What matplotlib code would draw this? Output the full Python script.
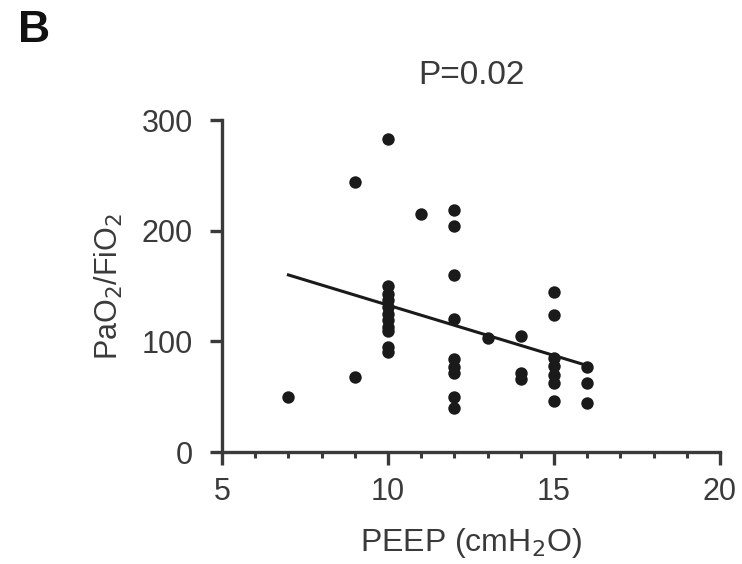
import matplotlib
matplotlib.use('Agg')
import matplotlib.pyplot as plt
import numpy as np

# PEEP (cmH2O) and PaO2/FiO2
peep = [7, 9, 9,
        10, 10, 10, 10, 10, 10, 10, 10, 10, 10, 10,
        11,
        12, 12, 12, 12, 12, 12, 12, 12, 12,
        13,
        14, 14, 14,
        15, 15, 15, 15, 15, 15, 15,
        16, 16, 16]
pf_ratio = [50, 244, 68,
            283, 150, 143, 137, 131, 125, 119, 113, 109, 95, 90,
            215,
            219, 204, 160, 120, 84, 77, 71, 50, 40,
            103,
            105, 71, 66,
            145, 124, 85, 78, 70, 62, 46,
            77, 62, 44]

# regression line as drawn (from PEEP 7 to 16)
fit_x = [7, 16]
fit_slope = -9.1
fit_intercept = 223.7

xticks = [5, 10, 15, 20]
yticks = [0, 100, 200, 300]
p_text = 'P=0.02'

plt.rcParams['font.family'] = ['Liberation Sans', 'DejaVu Sans']
grey = '#3a3a3a'

fig = plt.figure(figsize=(7.42, 5.64), dpi=100)
ax = fig.add_axes([222 / 742, 1 - 452 / 564, 498 / 742, 332 / 564])

ax.scatter(peep, pf_ratio, s=80, color='#1a1a1a', zorder=3, linewidths=0,
           clip_on=False)
lx = np.array(fit_x, dtype=float)
ax.plot(lx, fit_intercept + fit_slope * lx, color='#1a1a1a', lw=2.2, zorder=2)

ax.set_xlim(5, 20)
ax.set_ylim(0, 300)
ax.spines['top'].set_visible(False)
ax.spines['right'].set_visible(False)
for s in ['left', 'bottom']:
    ax.spines[s].set_color(grey)
    ax.spines[s].set_linewidth(2.4)

ax.set_xticks(xticks)
ax.set_xticks(np.arange(5, 21, 1), minor=True)
ax.set_yticks(yticks)
ax.tick_params(axis='x', which='major', length=9, width=2.4, color=grey,
               labelsize=22, labelcolor=grey, pad=9)
ax.tick_params(axis='x', which='minor', length=4, width=2.2, color=grey)
ax.tick_params(axis='y', which='major', length=9, width=2.4, color=grey,
               labelsize=22, labelcolor=grey, pad=12)

ax.set_xlabel('PEEP (cmH$_2$O)', fontsize=23, color=grey, labelpad=14)
ax.set_ylabel('PaO$_2$/FiO$_2$', fontsize=22, color=grey, labelpad=12)

fig.text(471 / 742, 1 - 75 / 564, p_text, fontsize=24, color=grey,
         ha='center', va='center')
fig.text(18 / 742, 1 - 31 / 564, 'B', fontsize=32, fontweight='bold',
         color='#111111', ha='left', va='center')

fig.savefig('out.png', dpi=100)
